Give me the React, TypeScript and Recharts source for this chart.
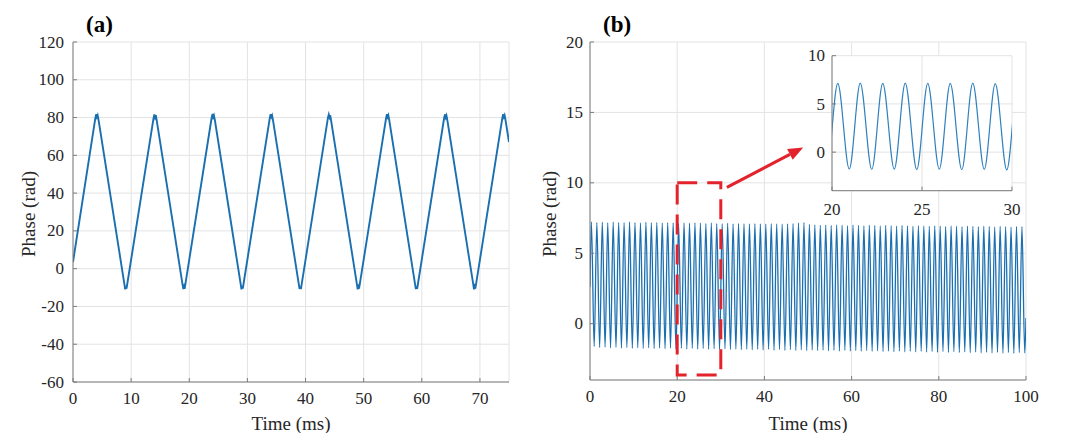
import React from "react";
import { LineChart, Line, XAxis, YAxis, CartesianGrid, ReferenceArea, ReferenceLine } from "recharts";

// (a) phase vs time, vertices (ms, rad)
const timeA = [
  0,
  3.85, 4.0, 4.12, 4.24, 4.4,
  8.82, 8.98, 9.1, 9.2, 9.36,
  13.85, 14.0, 14.12, 14.24, 14.4,
  18.82, 18.98, 19.1, 19.2, 19.36,
  23.85, 24.0, 24.12, 24.24, 24.4,
  28.82, 28.98, 29.1, 29.2, 29.36,
  33.85, 34.0, 34.12, 34.24, 34.4,
  38.82, 38.98, 39.1, 39.2, 39.36,
  43.85, 44.0, 44.12, 44.24, 44.4,
  48.82, 48.98, 49.1, 49.2, 49.36,
  53.85, 54.0, 54.12, 54.24, 54.4,
  58.82, 58.98, 59.1, 59.2, 59.36,
  63.85, 64.0, 64.12, 64.24, 64.4,
  68.82, 68.98, 69.1, 69.2, 69.36,
  73.85, 74.0, 74.12, 74.24, 74.4,
  75,
];
const phaseA = [
  3.5,
  79.8, 81.8, 80.3, 81.2, 78.6,
  -7.8, -10.9, -9.4, -10.6, -7.6,
  79.6, 81.7, 80.1, 81.3, 78.5,
  -7.9, -10.8, -9.5, -10.7, -7.7,
  79.9, 81.9, 80.2, 81.1, 78.7,
  -7.7, -10.9, -9.3, -10.5, -7.6,
  79.7, 81.8, 80.4, 81.2, 78.6,
  -7.8, -10.7, -9.4, -10.8, -7.8,
  79.8, 81.6, 80.2, 81.3, 78.4,
  -7.9, -10.9, -9.6, -10.6, -7.7,
  79.6, 81.8, 80.3, 81.2, 78.6,
  -7.8, -10.8, -9.4, -10.7, -7.6,
  79.9, 81.7, 80.1, 81.1, 78.5,
  -7.7, -10.9, -9.5, -10.6, -7.7,
  79.7, 81.8, 80.3, 81.2, 78.7,
  67.0,
];
const ticksAX = [0, 10, 20, 30, 40, 50, 60, 70];
const ticksAY = [-60, -40, -20, 0, 20, 40, 60, 80, 100, 120];

// (b) phase vs time, peaks and troughs of the oscillation (ms, rad)
const peakTimeB = [
  0.32, 1.57, 2.82, 4.07, 5.32, 6.57, 7.82, 9.07, 10.32, 11.57,
  12.82, 14.07, 15.32, 16.57, 17.82, 19.07, 20.32, 21.57, 22.82, 24.07,
  25.32, 26.57, 27.82, 29.07, 30.32, 31.57, 32.82, 34.07, 35.32, 36.57,
  37.82, 39.07, 40.32, 41.57, 42.82, 44.07, 45.32, 46.57, 47.82, 49.07,
  50.32, 51.57, 52.82, 54.07, 55.32, 56.57, 57.82, 59.07, 60.32, 61.57,
  62.82, 64.07, 65.32, 66.57, 67.82, 69.07, 70.32, 71.57, 72.82, 74.07,
  75.32, 76.57, 77.82, 79.07, 80.32, 81.57, 82.82, 84.07, 85.32, 86.57,
  87.82, 89.07, 90.32, 91.57, 92.82, 94.07, 95.32, 96.57, 97.82, 99.07,
];
const peakPhaseB = [
  7.22, 7.18, 7.2, 7.16, 7.21, 7.19, 7.17, 7.22, 7.18, 7.15,
  7.2, 7.17, 7.19, 7.14, 7.18, 7.16, 7.12, 7.15, 7.13, 7.16,
  7.14, 7.12, 7.15, 7.11, 7.1, 7.13, 7.09, 7.12, 7.1, 7.08,
  7.11, 7.09, 7.07, 7.1, 7.08, 7.06, 7.09, 7.12, 7.15, 7.18,
  7.05, 7.02, 6.98, 7.0, 6.97, 7.01, 6.99, 6.96, 7.0, 6.98,
  6.95, 6.99, 6.97, 6.94, 6.98, 6.96, 6.93, 6.97, 6.95, 6.92,
  6.96, 6.94, 6.91, 6.95, 6.93, 6.9, 6.94, 6.92, 6.89, 6.93,
  6.91, 6.88, 6.92, 6.9, 6.87, 6.91, 6.89, 6.86, 6.9, 6.88,
];
const troughTimeB = [
  0.96, 2.21, 3.46, 4.71, 5.96, 7.21, 8.46, 9.71, 10.96, 12.21,
  13.46, 14.71, 15.96, 17.21, 18.46, 19.71, 20.96, 22.21, 23.46, 24.71,
  25.96, 27.21, 28.46, 29.71, 30.96, 32.21, 33.46, 34.71, 35.96, 37.21,
  38.46, 39.71, 40.96, 42.21, 43.46, 44.71, 45.96, 47.21, 48.46, 49.71,
  50.96, 52.21, 53.46, 54.71, 55.96, 57.21, 58.46, 59.71, 60.96, 62.21,
  63.46, 64.71, 65.96, 67.21, 68.46, 69.71, 70.96, 72.21, 73.46, 74.71,
  75.96, 77.21, 78.46, 79.71, 80.96, 82.21, 83.46, 84.71, 85.96, 87.21,
  88.46, 89.71, 90.96, 92.21, 93.46, 94.71, 95.96, 97.21, 98.46, 99.71,
];
const troughPhaseB = [
  -1.62, -1.7, -1.66, -1.72, -1.68, -1.74, -1.7, -1.75, -1.71, -1.76,
  -1.72, -1.77, -1.73, -1.78, -1.74, -1.79, -1.75, -1.8, -1.76, -1.81,
  -1.77, -1.82, -1.78, -1.83, -1.79, -1.84, -1.8, -1.85, -1.81, -1.86,
  -1.82, -1.87, -1.83, -1.88, -1.84, -1.89, -1.85, -1.9, -1.86, -1.91,
  -1.87, -1.92, -1.88, -1.93, -1.89, -1.94, -1.9, -1.95, -1.91, -1.96,
  -1.92, -1.97, -1.93, -1.98, -1.94, -1.99, -1.95, -2.0, -1.96, -2.01,
  -1.97, -2.02, -1.98, -2.03, -1.99, -2.04, -2.0, -2.05, -2.01, -2.06,
  -2.02, -2.07, -2.03, -2.08, -2.04, -2.09, -2.05, -2.1, -2.06, -2.08,
];
const edgeTimeB = [0, 100];
const edgePhaseB = [2.6, 0.4];
const ticksBX = [0, 20, 40, 60, 80, 100];
const ticksBY = [0, 5, 10, 15, 20];
const ticksInsetX = [20, 25, 30];
const ticksInsetY = [0, 5, 10];

// zoom box and arrow (ms, rad)
const zoomBox = { x1: 20, x2: 30, y1: -3.65, y2: 10 };
const arrowFrom = { x: 31.4, y: 9.68 };
const arrowTo = { x: 48.9, y: 12.51 };

const dataA = timeA.map((t, i) => ({ t, v: phaseA[i] }));
const dataB = [
  ...edgeTimeB.map((t, i) => ({ t, v: edgePhaseB[i] })),
  ...peakTimeB.map((t, i) => ({ t, v: peakPhaseB[i] })),
  ...troughTimeB.map((t, i) => ({ t, v: troughPhaseB[i] })),
].sort((a, b) => a.t - b.t);

const SERIF = "'Liberation Serif', 'Times New Roman', serif";
const AXIS = "#7c7c7c";
const GRID = "#e3e3e3";
const INK = "#262626";
const BLUE = "#1a6fb0";
const RED = "#e3232b";

const BottomTick = (p: any) => (
  <text x={p.x} y={p.y} dy="0.71em" textAnchor="middle" fontSize={17} fontFamily={SERIF} fill={INK}>
    {p.payload.value}
  </text>
);
const LeftTick = (p: any) => (
  <text x={p.x} y={p.y} dy="0.33em" textAnchor="end" fontSize={17} fontFamily={SERIF} fill={INK}>
    {p.payload.value}
  </text>
);

const Arrow = (p: any) => {
  const { x1, y1, x2, y2 } = p;
  const a = Math.atan2(y2 - y1, x2 - x1);
  const len = 15;
  const half = 6;
  const bx = x2 - len * Math.cos(a);
  const by = y2 - len * Math.sin(a);
  const px = -Math.sin(a) * half;
  const py = Math.cos(a) * half;
  return (
    <g>
      <line x1={x1} y1={y1} x2={bx} y2={by} stroke={RED} strokeWidth={3} />
      <polygon points={`${x2},${y2} ${bx + px},${by + py} ${bx - px},${by - py}`} fill={RED} />
    </g>
  );
};

export default function App() {
  return (
    <div style={{ position: "absolute", left: 0, top: 0, width: 1080, height: 433, background: "#fff", overflow: "hidden", fontFamily: SERIF }}>
      <div style={{ position: "absolute", left: 0, top: 0 }}>
        <LineChart width={540} height={433} data={dataA} margin={{ top: 42, right: 31, left: 0, bottom: 3 }}>
          <CartesianGrid stroke={GRID} />
          <XAxis dataKey="t" type="number" domain={[0, 75]} ticks={ticksAX} height={48} stroke={AXIS} tickSize={-4} tickMargin={14} tick={BottomTick} allowDataOverflow />
          <YAxis type="number" domain={[-60, 120]} ticks={ticksAY} width={73} stroke={AXIS} tickSize={-4} tickMargin={13} tick={LeftTick} allowDataOverflow />
          <XAxis xAxisId="top" orientation="top" type="number" domain={[0, 75]} ticks={ticksAX} height={0} stroke={AXIS} tickSize={-4} tick={false} />
          <YAxis yAxisId="right" orientation="right" type="number" domain={[-60, 120]} ticks={ticksAY} width={0} stroke={AXIS} tickSize={-4} tick={false} />
          <Line dataKey="v" type="linear" stroke={BLUE} strokeWidth={1.9} dot={false} isAnimationActive={false} />
        </LineChart>
      </div>

      <div style={{ position: "absolute", left: 540, top: 0 }}>
        <LineChart width={540} height={433} data={dataB} margin={{ top: 42, right: 54, left: 0, bottom: 5 }}>
          <CartesianGrid stroke={GRID} />
          <XAxis dataKey="t" type="number" domain={[0, 100]} ticks={ticksBX} height={48} stroke={AXIS} tickSize={-4} tickMargin={14} tick={BottomTick} allowDataOverflow />
          <YAxis type="number" domain={[-4, 20]} ticks={ticksBY} width={50} stroke={AXIS} tickSize={-4} tickMargin={11} tick={LeftTick} allowDataOverflow />
          <XAxis xAxisId="top" orientation="top" type="number" domain={[0, 100]} ticks={ticksBX} height={0} stroke={AXIS} tickSize={-4} tick={false} />
          <YAxis yAxisId="right" orientation="right" type="number" domain={[-4, 20]} ticks={ticksBY} width={0} stroke={AXIS} tickSize={-4} tick={false} />
          <Line dataKey="v" type="monotone" stroke={BLUE} strokeWidth={1.3} dot={false} isAnimationActive={false} />
          <ReferenceArea
            x1={zoomBox.x1}
            x2={zoomBox.x2}
            y1={zoomBox.y1}
            y2={zoomBox.y2}
            stroke={RED}
            strokeWidth={3}
            strokeDasharray="20 10"
            fill="none"
            fillOpacity={0}
            zIndex={600}
          />
          <ReferenceLine segment={[arrowFrom, arrowTo]} shape={Arrow} zIndex={600} />
        </LineChart>
      </div>

      <div style={{ position: "absolute", left: 790, top: 45 }}>
        <LineChart width={240} height={185} data={dataB} margin={{ top: 10.7, right: 18, left: 12, bottom: 9.3 }}>
          <CartesianGrid stroke={GRID} fill="#fff" fillOpacity={1} />
          <XAxis dataKey="t" type="number" domain={[20, 30]} ticks={ticksInsetX} height={30} stroke={AXIS} tickSize={-4} tickMargin={16} tick={BottomTick} allowDataOverflow />
          <YAxis type="number" domain={[-4, 10]} ticks={ticksInsetY} width={30} stroke={AXIS} tickSize={-4} tickMargin={11} tick={LeftTick} allowDataOverflow />
          <XAxis xAxisId="top" orientation="top" type="number" domain={[20, 30]} ticks={ticksInsetX} height={0} stroke={AXIS} tickSize={-4} tick={false} />
          <YAxis yAxisId="right" orientation="right" type="number" domain={[-4, 10]} ticks={ticksInsetY} width={0} stroke={AXIS} tickSize={-4} tick={false} />
          <Line dataKey="v" type="monotone" stroke="#2f80bd" strokeWidth={1.2} dot={false} isAnimationActive={false} />
        </LineChart>
      </div>

      <svg width={1080} height={433} style={{ position: "absolute", left: 0, top: 0, pointerEvents: "none" }} fontFamily={SERIF} fill={INK}>
        <text x={86} y={32} fontSize={23} fontWeight="bold" fill="#000">(a)</text>
        <text x={603} y={32} fontSize={23} fontWeight="bold" fill="#000">(b)</text>
        <text x={291} y={430} fontSize={19} textAnchor="middle">Time (ms)</text>
        <text x={808} y={430} fontSize={19} textAnchor="middle">Time (ms)</text>
        <text transform="translate(28,214) rotate(-90)" fontSize={19} textAnchor="middle" dominantBaseline="central">Phase (rad)</text>
        <text transform="translate(549,214) rotate(-90)" fontSize={19} textAnchor="middle" dominantBaseline="central">Phase (rad)</text>
      </svg>
    </div>
  );
}
